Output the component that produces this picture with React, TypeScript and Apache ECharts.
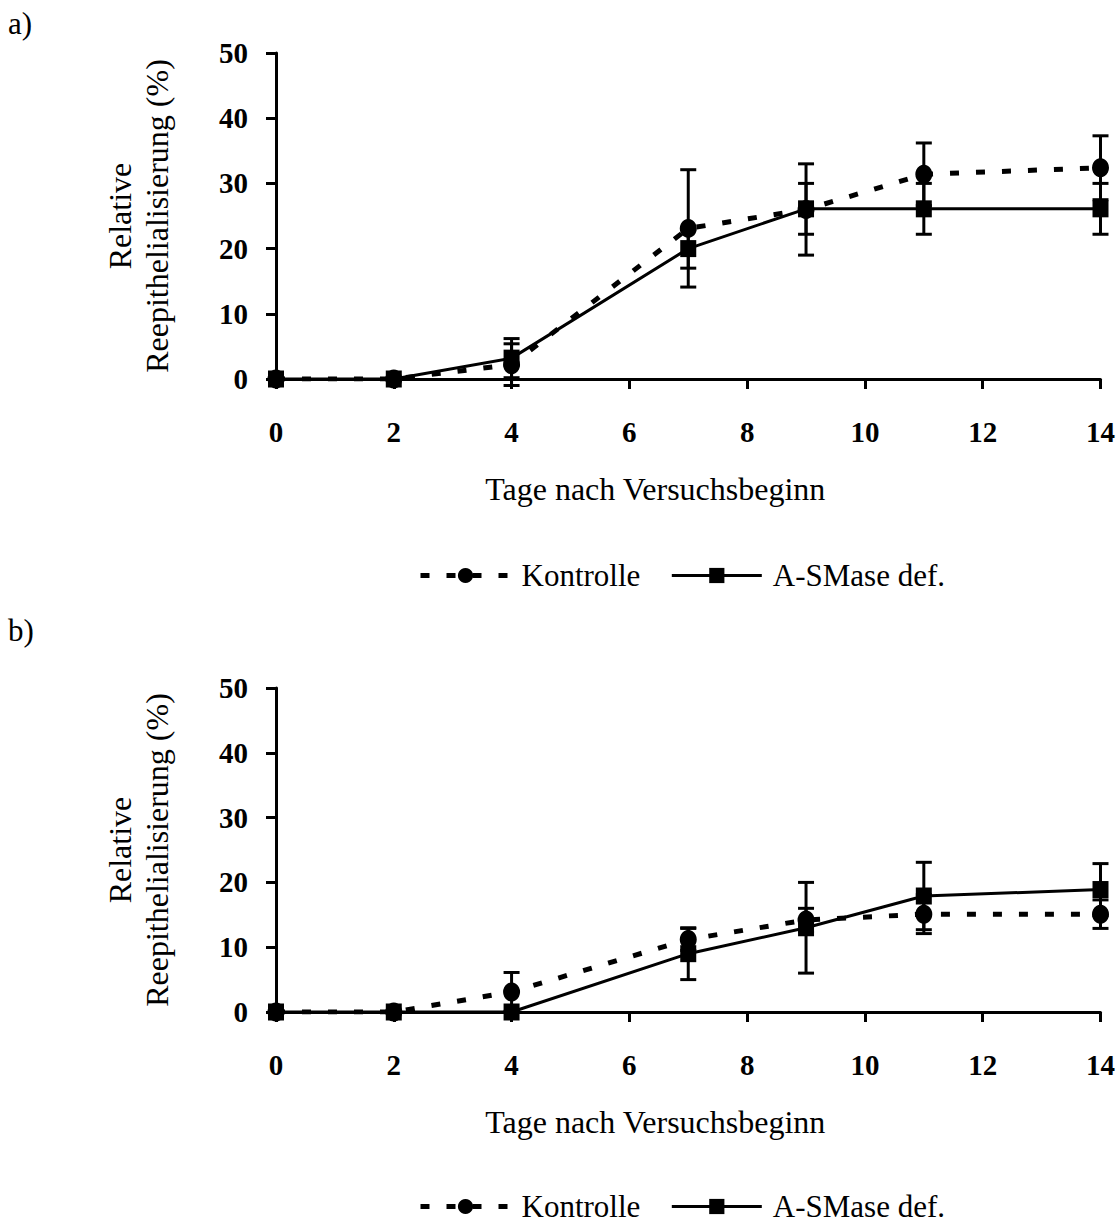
import React, { useEffect, useRef } from "react";
import * as echarts from "echarts";

// ---- data ----
const days = [0, 2, 4, 7, 9, 11, 14];
const xTickLabels = ["0", "2", "4", "6", "8", "10", "12", "14"];
const seriesNames = ["Kontrolle", "A-SMase def."];

// panel a)
const kontrolleA = [0, 0, 2.2, 23.1, 26, 31.4, 32.4];
const kontrolleAErr = [0, 0, 3.2, 9, 7, 4.8, 4.9];
const smaseA = [0, 0, 3.2, 20, 26.1, 26.1, 26.1];
const smaseAErr = [0, 0, 3, 3, 3.9, 3.9, 3.9];

// panel b)
const kontrolleB = [0, 0, 3.1, 11.2, 14.2, 15.1, 15.1];
const kontrolleBErr = [0, 0, 3, 1.7, 1.8, 3, 2.2];
const smaseB = [0, 0, 0, 9, 13, 17.9, 18.9];
const smaseBErr = [0, 0, 0, 4, 7, 5.2, 4];

const FONT = '"Liberation Serif", "Times New Roman", Times, serif';

function errData(means: number[], errs: number[]) {
  const out: number[][] = [];
  days.forEach((d, i) => {
    if (errs[i] > 0) out.push([d, means[i] - errs[i], means[i] + errs[i]]);
  });
  return out;
}

function pts(means: number[]) {
  return days.map((d, i) => [d, means[i]]);
}

const renderErr = (_params: any, api: any) => {
  const x = api.value(0);
  const lo = api.coord([x, api.value(1)]);
  const hi = api.coord([x, api.value(2)]);
  const cap = 8;
  const style = { stroke: "#000", lineWidth: 3 };
  return {
    type: "group",
    children: [
      { type: "line", shape: { x1: lo[0], y1: lo[1], x2: hi[0], y2: hi[1] }, style },
      { type: "line", shape: { x1: lo[0] - cap, y1: lo[1], x2: lo[0] + cap, y2: lo[1] }, style },
      { type: "line", shape: { x1: hi[0] - cap, y1: hi[1], x2: hi[0] + cap, y2: hi[1] }, style },
    ],
  };
};

function xAxisCfg(gridIndex: number) {
  return {
    type: "value",
    gridIndex,
    min: 0,
    max: 14,
    interval: 2,
    axisLine: { show: true, lineStyle: { color: "#000", width: 3 } },
    axisTick: { show: true, length: 10, lineStyle: { color: "#000", width: 3 } },
    splitLine: { show: false },
    axisLabel: {
      fontSize: 29,
      fontWeight: "bold",
      color: "#000",
      fontFamily: FONT,
      margin: 38,
      formatter: (v: number) => xTickLabels[Math.round(v / 2)] ?? String(v),
    },
    name: "Tage nach Versuchsbeginn",
    nameLocation: "middle",
    nameGap: 94,
    nameTextStyle: { fontSize: 32, fontFamily: FONT, color: "#000", padding: [0, 66, 0, 0] },
  };
}

function yAxisCfg(gridIndex: number) {
  return {
    type: "value",
    gridIndex,
    min: 0,
    max: 50,
    interval: 10,
    axisLine: { show: true, lineStyle: { color: "#000", width: 3 } },
    axisTick: { show: true, length: 10, lineStyle: { color: "#000", width: 3 } },
    splitLine: { show: false },
    axisLabel: {
      fontSize: 29,
      fontWeight: "bold",
      color: "#000",
      fontFamily: FONT,
      margin: 28,
    },
    name: "Relative\nReepithelialisierung (%)",
    nameLocation: "middle",
    nameRotate: 90,
    nameGap: 101,
    nameTextStyle: { fontSize: 32, lineHeight: 37, fontFamily: FONT, color: "#000" },
  };
}

function panelSeries(idx: number, k: number[], kErr: number[], s: number[], sErr: number[]) {
  return [
    {
      type: "custom",
      xAxisIndex: idx,
      yAxisIndex: idx,
      renderItem: renderErr,
      encode: { x: 0, y: [1, 2] },
      clip: false,
      data: errData(k, kErr),
      silent: true,
      z: 2,
    },
    {
      type: "custom",
      xAxisIndex: idx,
      yAxisIndex: idx,
      renderItem: renderErr,
      encode: { x: 0, y: [1, 2] },
      clip: false,
      data: errData(s, sErr),
      silent: true,
      z: 2,
    },
    {
      name: seriesNames[0],
      type: "line",
      xAxisIndex: idx,
      yAxisIndex: idx,
      data: pts(k),
      symbol: "circle",
      symbolSize: [17, 19],
      itemStyle: { color: "#000" },
      lineStyle: { color: "#000", width: 5, type: [9, 17] },
      z: 3,
    },
    {
      name: seriesNames[1],
      type: "line",
      xAxisIndex: idx,
      yAxisIndex: idx,
      data: pts(s),
      symbol: "rect",
      symbolSize: [16, 17],
      itemStyle: { color: "#000" },
      lineStyle: { color: "#000", width: 3, type: "solid" },
      z: 4,
    },
  ];
}

function legendCfg(top: number) {
  return {
    left: 413,
    top,
    itemWidth: 90,
    itemHeight: 19,
    itemGap: 30,
    data: seriesNames,
    selectedMode: false,
    lineStyle: { width: "inherit" },
    textStyle: { fontSize: 31, fontFamily: FONT, color: "#000", padding: [0, 0, 0, 6] },
  };
}

export default function App() {
  const ref = useRef<HTMLDivElement>(null);
  useEffect(() => {
    if (!ref.current) return;
    const chart = echarts.init(ref.current, undefined, { renderer: "svg" });
    chart.setOption({
      animation: false,
      backgroundColor: "#fff",
      textStyle: { fontFamily: FONT },
      grid: [
        { left: 276, top: 53, right: 17, height: 326 },
        { left: 276, top: 688, right: 17, height: 324 },
      ],
      xAxis: [xAxisCfg(0), xAxisCfg(1)],
      yAxis: [yAxisCfg(0), yAxisCfg(1)],
      legend: [legendCfg(555), legendCfg(1186)],
      graphic: [
        { type: "text", left: 8, top: 8, style: { text: "a)", fontSize: 31, fontFamily: FONT, fill: "#000" } },
        { type: "text", left: 8, top: 615, style: { text: "b)", fontSize: 31, fontFamily: FONT, fill: "#000" } },
      ],
      series: [
        ...panelSeries(0, kontrolleA, kontrolleAErr, smaseA, smaseAErr),
        ...panelSeries(1, kontrolleB, kontrolleBErr, smaseB, smaseBErr),
      ],
    });
    return () => chart.dispose();
  }, []);
  return (
    <div
      ref={ref}
      style={{ position: "absolute", left: 0, top: 0, width: 1118, height: 1226, background: "#fff" }}
    />
  );
}
